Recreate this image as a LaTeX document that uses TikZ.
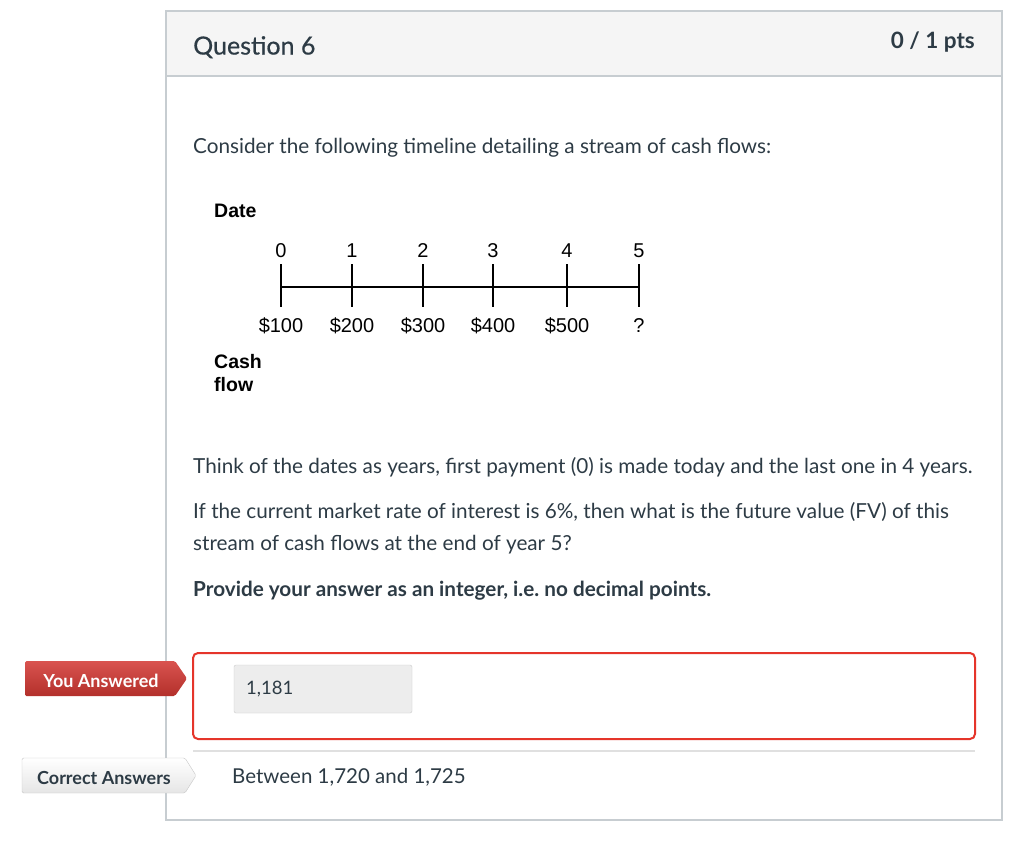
\documentclass[tikz,border=0pt]{standalone}
\usepackage{fontspec}
\setmainfont{Lato}
\newfontfamily\headfont[FakeBold=0.5]{Lato}
\newfontfamily\tlfont{Liberation Sans}
\definecolor{inktext}{HTML}{2D3B45}
\definecolor{frameline}{HTML}{C7CDD1}
\definecolor{headfill}{HTML}{F5F5F5}
\definecolor{wrongred}{HTML}{E5352A}
\definecolor{tagredtop}{HTML}{D9534F}
\definecolor{tagredbot}{HTML}{B3302B}
\tikzset{
  bodytext/.style={anchor=mid west, inner sep=0pt, text=inktext, font=\fontsize{20.7}{24}\selectfont},
  tltext/.style={inner sep=0pt, font=\tlfont\fontsize{20}{23}\selectfont},
  tlbold/.style={inner sep=0pt, anchor=north west, align=left, font=\tlfont\bfseries\fontsize{19.5}{23}\selectfont},
}
\begin{document}
\begin{tikzpicture}[x=1pt,y=-1pt]
	\useasboundingbox (0,0) rectangle (1024,840);
	% question frame and header
	\filldraw[fill=white, draw=frameline, line width=1.2pt] (166,11) rectangle (1002,820);
	\filldraw[fill=headfill, draw=frameline, line width=1.2pt] (166,11) rectangle (1002,76);
	\node[anchor=mid west, inner sep=0pt, text=inktext, font=\headfont\fontsize{25}{29}\selectfont] (qname) at (193,52) {Question 6};
	\node[anchor=mid east, inner sep=0pt, text=inktext, font=\bfseries\fontsize{22.5}{26}\selectfont] (qpts) at (975,46) {0 / 1 pts};
	\node[bodytext] (intro) at (193,151) {Consider the following timeline detailing a stream of cash flows:};
	% timeline
	\node[tlbold] (date) at (214,204) {Date};
	\foreach \i/\xx/\val in {0/281/\$100, 1/352/\$200, 2/423/\$300, 3/493/\$400, 4/567/\$500, 5/639/?} {
		\coordinate (t\i) at (\xx,287);
		\draw[line width=1.4pt] (\xx,264) -- (\xx,307);
		\node[tltext] (n\i) at (\xx,251) {\i};
		\node[tltext] (v\i) at (\xx,326) {\val};
	}
	\draw[line width=1.4pt] (t0) -- (t5);
	\node[tlbold] (cash) at (214,354) {Cash\\flow};
	% question text
	\node[bodytext] (think) at (193,471) {Think of the dates as years, first payment (0) is made today and the last one in 4 years.};
	\node[bodytext] (ifrate) at (193,516) {If the current market rate of interest is 6\%, then what is the future value (FV) of this};
	\node[bodytext] (stream) at (193,548) {stream of cash flows at the end of year 5?};
	\node[bodytext, font=\bfseries\fontsize{20.7}{24}\selectfont] (provide) at (193,594) {Provide your answer as an integer, i.e.\ no decimal points.};
	% given answer
	\draw[wrongred, line width=2pt, rounded corners=5pt] (193,653) rectangle (975,739);
	\filldraw[fill=black!7, draw=black!20, rounded corners=2pt] (234,665) rectangle (412,713);
	\node[bodytext, font=\fontsize{18.5}{22}\selectfont] (given) at (246,692) {1,181};
	\shade[top color=tagredtop, bottom color=tagredbot, rounded corners=1.5pt] (25,661) -- (175,661) -- (187,678.5) -- (175,696) -- (25,696) -- cycle;
	\node[inner sep=0pt, text=white, font=\bfseries\fontsize{18}{21}\selectfont] (youtag) at (101,681) {You Answered};
	% correct answer
	\draw[black!12, line width=1.5pt] (193,751) -- (975,751);
	\draw[top color=white, bottom color=black!10, draw=black!22, rounded corners=1.5pt] (22,758) -- (185,758) -- (196,775.5) -- (185,793) -- (22,793) -- cycle;
	\node[inner sep=0pt, text=inktext, font=\bfseries\fontsize{18}{21}\selectfont] (righttag) at (104,778) {Correct Answers};
	\node[bodytext, font=\fontsize{20.5}{24}\selectfont] (range) at (232,781) {Between 1,720 and 1,725};
\end{tikzpicture}
\end{document}
